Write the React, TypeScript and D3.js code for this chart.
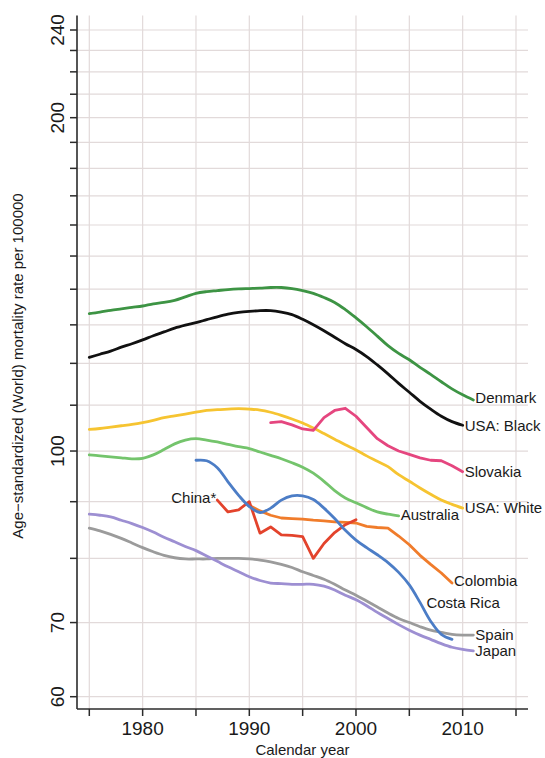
import React from 'react';
import * as d3 from 'd3';

// annual rates per 100000, each series starts at its own first year
const DENMARK = [133.1, 133.5, 134.0, 134.4, 134.8, 135.2, 135.8, 136.2, 136.8, 137.8, 138.8, 139.3, 139.6, 139.9, 140.1, 140.2, 140.3, 140.5, 140.5, 140.2, 139.6, 138.8, 137.6, 136.2, 134.2, 131.9, 129.5, 127.0, 124.5, 122.5, 120.9, 119.0, 117.3, 115.5, 113.8, 112.4, 111.2];
const USA_BLACK = [121.5, 122.3, 123.1, 124.1, 125.0, 126.0, 127.1, 128.1, 129.1, 129.9, 130.6, 131.4, 132.2, 132.9, 133.4, 133.7, 133.9, 133.9, 133.5, 132.8, 131.5, 130.0, 128.4, 126.7, 125.0, 123.5, 121.7, 119.6, 117.4, 115.1, 113.0, 110.9, 109.1, 107.5, 106.3, 105.5];
const USA_WHITE = [104.6, 104.8, 105.1, 105.4, 105.7, 106.1, 106.6, 107.2, 107.6, 108.0, 108.4, 108.8, 109.0, 109.1, 109.2, 109.1, 108.9, 108.4, 107.7, 106.9, 106.0, 104.9, 103.7, 102.5, 101.3, 100.2, 99.0, 97.9, 96.8, 95.2, 93.9, 92.6, 91.4, 90.3, 89.5, 88.8];
const SLOVAKIA = [106.1, 106.3, 105.6, 104.7, 104.4, 107.2, 108.8, 109.3, 107.5, 105.0, 102.6, 101.1, 100.0, 99.3, 98.6, 98.1, 98.0, 97.0, 95.8];
const AUSTRALIA = [99.2, 99.0, 98.8, 98.6, 98.4, 98.5, 99.2, 100.3, 101.5, 102.3, 102.6, 102.3, 101.9, 101.4, 100.9, 100.5, 99.8, 99.1, 98.4, 97.6, 96.7, 95.5, 93.9, 92.1, 90.7, 89.8, 88.9, 88.1, 87.7, 87.4];
const COSTA_RICA = [98.1, 98.0, 96.6, 93.8, 91.2, 89.1, 88.0, 88.8, 90.3, 91.1, 91.1, 90.4, 88.8, 86.9, 84.8, 83.1, 81.8, 80.6, 79.3, 77.7, 75.7, 73.0, 70.2, 68.3, 67.6];
const COLOMBIA = [89.3, 88.3, 87.5, 87.0, 86.9, 86.8, 86.6, 86.5, 86.3, 86.2, 86.1, 85.5, 85.3, 85.2, 83.8, 82.3, 80.5, 79.0, 77.6, 76.0];
const CHINA = [90.3, 88.1, 88.5, 90.0, 84.3, 85.4, 84.0, 83.9, 83.7, 80.0, 82.5, 84.4, 85.8, 86.7];
const SPAIN = [85.2, 84.7, 84.1, 83.4, 82.6, 81.8, 81.1, 80.5, 80.1, 79.9, 79.9, 79.9, 80.0, 80.0, 80.0, 79.9, 79.7, 79.4, 79.0, 78.5, 77.8, 77.2, 76.6, 75.8, 74.9, 74.1, 73.2, 72.3, 71.4, 70.6, 70.0, 69.4, 68.9, 68.6, 68.3, 68.2, 68.2];
const JAPAN = [87.7, 87.5, 87.2, 86.6, 86.0, 85.3, 84.5, 83.6, 82.8, 82.0, 81.3, 80.4, 79.5, 78.6, 77.8, 77.0, 76.4, 76.0, 75.9, 75.8, 75.8, 75.8, 75.5, 74.9, 74.1, 73.4, 72.5, 71.5, 70.6, 69.7, 68.9, 68.2, 67.6, 67.0, 66.5, 66.2, 66.0];

const yGrid = [60, 70, 80, 90, 100, 110, 120, 130, 140, 150, 160, 170, 180, 190, 200, 210, 220, 230, 240];
const yLabels = [60, 70, 100, 200, 240];
const xGrid = [1975, 1980, 1985, 1990, 1995, 2000, 2005, 2010, 2015];
const xLabels = [1980, 1990, 2000, 2010];

interface Series {
  name: string;
  start: number;
  values: number[];
  color: string;
  smooth: boolean;
  label: 'end' | 'start' | 'free';
  dy?: number;
  at?: [number, number];
}

const series: Series[] = [
  { name: 'Spain', start: 1975, values: SPAIN, color: '#9b9b9b', smooth: true, label: 'end' },
  { name: 'Japan', start: 1975, values: JAPAN, color: '#9d8fd2', smooth: true, label: 'end' },
  { name: 'Australia', start: 1975, values: AUSTRALIA, color: '#74c46c', smooth: true, label: 'end', dy: -1 },
  { name: 'USA: White', start: 1975, values: USA_WHITE, color: '#f6c431', smooth: true, label: 'end' },
  { name: 'Colombia', start: 1990, values: COLOMBIA, color: '#f07c2b', smooth: false, label: 'end', dy: -2 },
  { name: 'China*', start: 1987, values: CHINA, color: '#e3432c', smooth: false, label: 'start', dy: -2 },
  { name: 'Costa Rica', start: 1985, values: COSTA_RICA, color: '#4c7dc6', smooth: true, label: 'free', at: [2006.6, 72.9] },
  { name: 'Slovakia', start: 1992, values: SLOVAKIA, color: '#e5467f', smooth: false, label: 'end' },
  { name: 'USA: Black', start: 1975, values: USA_BLACK, color: '#111111', smooth: true, label: 'end' },
  { name: 'Denmark', start: 1975, values: DENMARK, color: '#3d9444', smooth: true, label: 'end', dy: -2 },
];

const WIDTH = 545;
const HEIGHT = 758;
const FONT = "'Liberation Sans', Arial, Helvetica, sans-serif";

const App: React.FC = () => {
  const svgRef = React.useRef<SVGSVGElement>(null);

  React.useEffect(() => {
    const svg = d3.select(svgRef.current);
    svg.selectAll('*').remove();

    const left = 77;
    const right = 528;
    const top = 15.6;
    const bottom = 709;

    const xScale = d3.scaleLinear().domain([1975, 2015]).range([89.3, 516]);
    const yScale = d3.scaleLog().domain([60, 240]).range([696.7, 30]);

    const grid = svg.append('g').attr('class', 'grid');
    grid.selectAll('.hgrid')
      .data(yGrid)
      .join('line')
        .attr('x1', left)
        .attr('x2', right)
        .attr('y1', d => yScale(d))
        .attr('y2', d => yScale(d))
        .attr('stroke', '#e2dada')
        .attr('stroke-width', 1.2);
    grid.selectAll('.vgrid')
      .data(xGrid)
      .join('line')
        .attr('x1', d => xScale(d))
        .attr('x2', d => xScale(d))
        .attr('y1', top)
        .attr('y2', bottom)
        .attr('stroke', '#e2dada')
        .attr('stroke-width', 1.2);

    const plot = svg.append('g').attr('class', 'plot-area');
    series.forEach(s => {
      const pts: [number, number][] = s.values.map((v, i) => [s.start + i, v]);
      const line = d3.line<[number, number]>()
        .x(d => xScale(d[0]))
        .y(d => yScale(d[1]))
        .curve(s.smooth ? d3.curveCatmullRom.alpha(0.5) : d3.curveLinear);
      plot.append('path')
        .attr('d', line(pts))
        .attr('fill', 'none')
        .attr('stroke', s.color)
        .attr('stroke-width', 2.8)
        .attr('stroke-linejoin', 'round')
        .attr('stroke-linecap', 'round');
    });

    const labels = svg.append('g').attr('class', 'labels')
      .attr('font-family', FONT)
      .attr('font-size', 15)
      .attr('fill', '#1a1a1a');
    series.forEach(s => {
      const first = s.start;
      const last = s.start + s.values.length - 1;
      let x = 0;
      let y = 0;
      let anchor = 'start';
      if (s.label === 'end') {
        x = xScale(last) + 2;
        y = yScale(s.values[s.values.length - 1]);
      } else if (s.label === 'start') {
        x = xScale(first) - 1;
        y = yScale(s.values[0]);
        anchor = 'end';
      } else if (s.at) {
        x = xScale(s.at[0]);
        y = yScale(s.at[1]);
      }
      labels.append('text')
        .attr('x', x)
        .attr('y', y + (s.dy ?? 0))
        .attr('dy', '0.35em')
        .attr('text-anchor', anchor)
        .text(s.name);
    });

    const axes = svg.append('g').attr('class', 'axes');
    axes.append('line')
      .attr('x1', left).attr('x2', left)
      .attr('y1', top).attr('y2', bottom)
      .attr('stroke', '#2b2b2b').attr('stroke-width', 1.6);
    axes.append('line')
      .attr('x1', left).attr('x2', right)
      .attr('y1', bottom).attr('y2', bottom)
      .attr('stroke', '#2b2b2b').attr('stroke-width', 1.6);

    axes.selectAll('.ytick')
      .data(yGrid)
      .join('line')
        .attr('x1', left - 7)
        .attr('x2', left)
        .attr('y1', d => yScale(d))
        .attr('y2', d => yScale(d))
        .attr('stroke', '#2b2b2b')
        .attr('stroke-width', 1.5);
    axes.selectAll('.xtick')
      .data(xGrid)
      .join('line')
        .attr('x1', d => xScale(d))
        .attr('x2', d => xScale(d))
        .attr('y1', bottom)
        .attr('y2', bottom + 7)
        .attr('stroke', '#2b2b2b')
        .attr('stroke-width', 1.5);

    axes.selectAll('.ylabel')
      .data(yLabels)
      .join('text')
        .attr('transform', d => `translate(64, ${yScale(d)}) rotate(-90)`)
        .attr('text-anchor', 'middle')
        .attr('font-family', FONT)
        .attr('font-size', 19)
        .attr('fill', '#1a1a1a')
        .text(d => d);
    axes.selectAll('.xlabel')
      .data(xLabels)
      .join('text')
        .attr('x', d => xScale(d))
        .attr('y', 735)
        .attr('text-anchor', 'middle')
        .attr('font-family', FONT)
        .attr('font-size', 19)
        .attr('fill', '#1a1a1a')
        .text(d => d);

    svg.append('text')
      .attr('x', (left + right) / 2)
      .attr('y', 755)
      .attr('text-anchor', 'middle')
      .attr('font-family', FONT)
      .attr('font-size', 15)
      .attr('fill', '#1a1a1a')
      .text('Calendar year');
    svg.append('text')
      .attr('transform', `translate(23, 366) rotate(-90)`)
      .attr('text-anchor', 'middle')
      .attr('font-family', FONT)
      .attr('font-size', 15)
      .attr('fill', '#1a1a1a')
      .text('Age\u2212standardized (World) mortality rate per 100000');
  }, []);

  return (
    <svg
      ref={svgRef}
      width={WIDTH}
      height={HEIGHT}
      style={{ position: 'absolute', left: 0, top: 0, background: '#ffffff' }}
    />
  );
};

export default App;
